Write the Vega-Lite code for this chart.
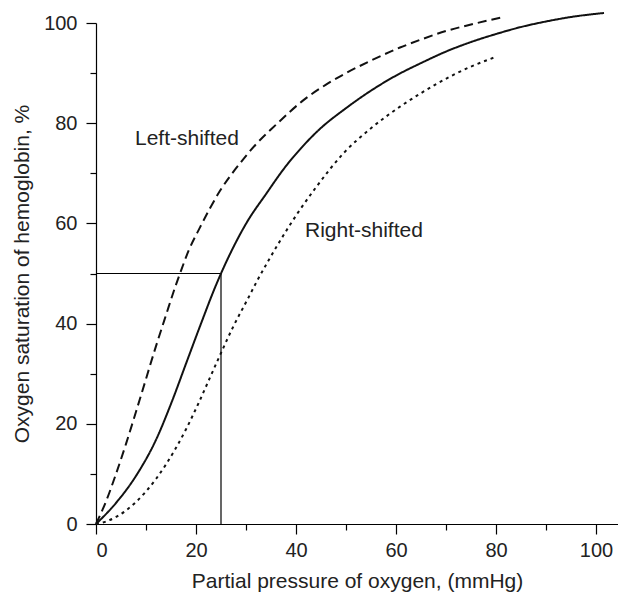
{
  "$schema": "https://vega.github.io/schema/vega-lite/v6.json",
  "width": 522,
  "height": 501,
  "autosize": {"type": "none"},
  "padding": {"left": 96, "top": 23, "right": 0, "bottom": 71},
  "background": "white",
  "config": {
    "view": {"stroke": null},
    "font": "Liberation Sans",
    "axis": {
      "grid": false,
      "domainColor": "#000000",
      "domainWidth": 1.2,
      "tickColor": "#000000",
      "tickWidth": 1.2,
      "labelFontSize": 20,
      "titleFontSize": 21,
      "titleFontWeight": "normal",
      "labelColor": "#222222",
      "titleColor": "#222222",
      "labelFont": "Liberation Sans",
      "titleFont": "Liberation Sans"
    }
  },
  "datasets": {
    "curves": [
      {"curve": "normal", "x": 0, "y": 0},
      {"curve": "normal", "x": 4, "y": 4.2},
      {"curve": "normal", "x": 8, "y": 9.6},
      {"curve": "normal", "x": 12, "y": 16.8},
      {"curve": "normal", "x": 15.2, "y": 24.5},
      {"curve": "normal", "x": 18, "y": 32},
      {"curve": "normal", "x": 21, "y": 40},
      {"curve": "normal", "x": 23.8, "y": 47.2},
      {"curve": "normal", "x": 25, "y": 50},
      {"curve": "normal", "x": 27.5, "y": 55.3},
      {"curve": "normal", "x": 30.1, "y": 60.1},
      {"curve": "normal", "x": 34.1, "y": 66},
      {"curve": "normal", "x": 37.8, "y": 71.2},
      {"curve": "normal", "x": 41, "y": 75},
      {"curve": "normal", "x": 44.5, "y": 78.6},
      {"curve": "normal", "x": 50, "y": 83},
      {"curve": "normal", "x": 55, "y": 86.5},
      {"curve": "normal", "x": 60, "y": 89.5},
      {"curve": "normal", "x": 65, "y": 92},
      {"curve": "normal", "x": 70, "y": 94.3},
      {"curve": "normal", "x": 75, "y": 96.2},
      {"curve": "normal", "x": 80, "y": 97.8},
      {"curve": "normal", "x": 85, "y": 99.2},
      {"curve": "normal", "x": 90, "y": 100.3},
      {"curve": "normal", "x": 95, "y": 101.2},
      {"curve": "normal", "x": 101.6, "y": 102},
      {"curve": "left", "x": 0, "y": 0},
      {"curve": "left", "x": 2, "y": 4.5},
      {"curve": "left", "x": 4, "y": 10},
      {"curve": "left", "x": 6, "y": 16},
      {"curve": "left", "x": 8, "y": 22.4},
      {"curve": "left", "x": 9.1, "y": 26},
      {"curve": "left", "x": 12, "y": 35.5},
      {"curve": "left", "x": 14, "y": 41.7},
      {"curve": "left", "x": 15.8, "y": 47.2},
      {"curve": "left", "x": 16.8, "y": 50},
      {"curve": "left", "x": 18.5, "y": 54.5},
      {"curve": "left", "x": 20.8, "y": 59.2},
      {"curve": "left", "x": 24.8, "y": 66.5},
      {"curve": "left", "x": 28.8, "y": 72},
      {"curve": "left", "x": 32, "y": 75.8},
      {"curve": "left", "x": 36, "y": 79.7},
      {"curve": "left", "x": 41.5, "y": 84.6},
      {"curve": "left", "x": 46, "y": 87.7},
      {"curve": "left", "x": 50, "y": 90},
      {"curve": "left", "x": 55, "y": 92.5},
      {"curve": "left", "x": 60.8, "y": 95.1},
      {"curve": "left", "x": 65, "y": 96.7},
      {"curve": "left", "x": 70, "y": 98.4},
      {"curve": "left", "x": 75, "y": 99.7},
      {"curve": "left", "x": 81.1, "y": 101.1},
      {"curve": "right", "x": 0, "y": 0},
      {"curve": "right", "x": 2, "y": 0.5},
      {"curve": "right", "x": 4, "y": 1.4},
      {"curve": "right", "x": 6, "y": 2.7},
      {"curve": "right", "x": 8, "y": 4.4},
      {"curve": "right", "x": 10, "y": 6.5},
      {"curve": "right", "x": 12, "y": 9},
      {"curve": "right", "x": 14, "y": 11.9},
      {"curve": "right", "x": 16, "y": 15.2},
      {"curve": "right", "x": 18, "y": 18.9},
      {"curve": "right", "x": 20.5, "y": 24.1},
      {"curve": "right", "x": 22.7, "y": 29},
      {"curve": "right", "x": 24.8, "y": 33.7},
      {"curve": "right", "x": 27.5, "y": 39.5},
      {"curve": "right", "x": 30.5, "y": 45.2},
      {"curve": "right", "x": 32.1, "y": 48.3},
      {"curve": "right", "x": 34.5, "y": 52.6},
      {"curve": "right", "x": 36.8, "y": 56.5},
      {"curve": "right", "x": 40.5, "y": 62.3},
      {"curve": "right", "x": 44, "y": 67.2},
      {"curve": "right", "x": 49.5, "y": 74},
      {"curve": "right", "x": 55, "y": 79},
      {"curve": "right", "x": 60.8, "y": 83.3},
      {"curve": "right", "x": 65, "y": 86},
      {"curve": "right", "x": 70.8, "y": 89.3},
      {"curve": "right", "x": 75, "y": 91.3},
      {"curve": "right", "x": 79.6, "y": 93.1}
    ],
    "refs": [
      {"x": 0, "x2": 25, "y": 50, "y2": 50},
      {"x": 25, "x2": 25, "y": 0, "y2": 50}
    ],
    "labels": [
      {"label": "Left-shifted", "x": 7.8, "y": 75.6},
      {"label": "Right-shifted", "x": 41.8, "y": 57.3}
    ]
  },
  "layer": [
    {
      "data": {"name": "refs"},
      "mark": {"type": "rule", "color": "#000000", "strokeWidth": 1.2},
      "encoding": {
        "x": {
          "field": "x", "type": "quantitative",
          "scale": {"domain": [0, 104.4], "nice": false, "zero": false},
          "axis": {
            "title": "Partial pressure of oxygen, (mmHg)",
            "values": [0, 10, 20, 30, 40, 50, 60, 70, 80, 90, 100],
            "labelExpr": "datum.value % 20 === 0 ? datum.label : ''",
            "tickSize": {"condition": {"test": "datum.value % 20 === 0", "value": 10}, "value": 6},
            "labelPadding": 6,
            "titlePadding": 10
          }
        },
        "x2": {"field": "x2"},
        "y": {
          "field": "y", "type": "quantitative",
          "scale": {"domain": [0, 100], "nice": false},
          "axis": {
            "title": "Oxygen saturation of hemoglobin, %",
            "values": [0, 10, 20, 30, 40, 50, 60, 70, 80, 90, 100],
            "labelExpr": "datum.value % 20 === 0 ? datum.label : ''",
            "tickSize": {"condition": {"test": "datum.value % 20 === 0", "value": 10}, "value": 6},
            "labelPadding": 9,
            "titlePadding": 11
          }
        },
        "y2": {"field": "y2"}
      }
    },
    {
      "data": {"name": "curves"},
      "mark": {"type": "line", "interpolate": "monotone", "strokeWidth": 2, "color": "#111111"},
      "encoding": {
        "x": {"field": "x", "type": "quantitative"},
        "y": {"field": "y", "type": "quantitative"},
        "detail": {"field": "curve"},
        "strokeDash": {
          "field": "curve", "type": "nominal",
          "scale": {"domain": ["normal", "left", "right"], "range": [[1, 0], [9, 5], [3, 4]]},
          "legend": null
        }
      }
    },
    {
      "data": {"name": "labels"},
      "mark": {"type": "text", "align": "left", "baseline": "alphabetic", "fontSize": 21, "color": "#222222", "font": "Liberation Sans"},
      "encoding": {
        "x": {"field": "x", "type": "quantitative"},
        "y": {"field": "y", "type": "quantitative"},
        "text": {"field": "label"}
      }
    }
  ]
}
